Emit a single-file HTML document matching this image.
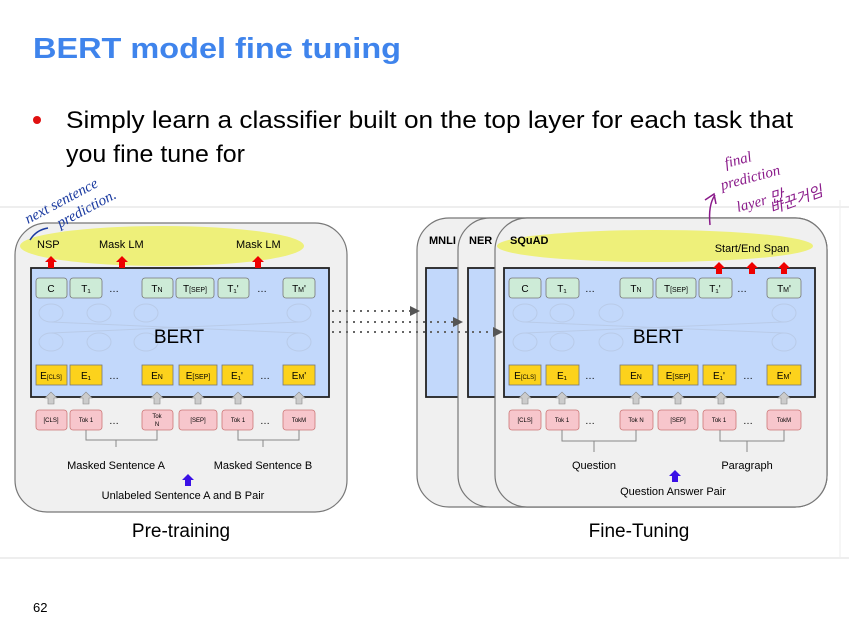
<!DOCTYPE html>
<html><head><meta charset="utf-8"><style>html,body{margin:0;padding:0;background:#fff}svg{display:block}</style></head><body>
<svg width="849" height="631" viewBox="0 0 849 631" xmlns="http://www.w3.org/2000/svg" font-family="Liberation Sans, sans-serif">
<defs>
<g id="up"><polygon points="-6,0 0,-6 6,0 3,0 3,6 -3,6 -3,0"/></g>
</defs>
<rect width="849" height="631" fill="#fff"/>
<text x="33" y="58" font-size="29" font-weight="bold" fill="#3f84ec" textLength="368" lengthAdjust="spacingAndGlyphs">BERT model fine tuning</text>
<circle cx="37" cy="120" r="4" fill="#e01010"/>
<text x="66" y="128" font-size="24" fill="#000" textLength="727" lengthAdjust="spacingAndGlyphs">Simply learn a classifier built on the top layer for each task that</text>
<text x="66" y="162" font-size="24" fill="#000" textLength="179" lengthAdjust="spacingAndGlyphs">you fine tune for</text>
<line x1="0" y1="207" x2="849" y2="207" stroke="#ddd"/>
<line x1="0" y1="558" x2="849" y2="558" stroke="#ddd"/>
<line x1="840" y1="200" x2="840" y2="558" stroke="#eee"/>
<text x="33" y="612" font-size="13" fill="#000">62</text>

<!-- Pre-training -->
<rect x="15" y="223" width="332" height="289" rx="32" fill="#f0f0f0" stroke="#777" stroke-width="1.2"/>
<ellipse cx="162" cy="246" rx="142" ry="20" fill="#eef07a"/>
<text x="37" y="248" font-size="11">NSP</text>
<text x="99" y="248" font-size="11">Mask LM</text>
<text x="236" y="248" font-size="11">Mask LM</text>
<rect x="31" y="268" width="298" height="129" fill="#c2d8fb" stroke="#222" stroke-width="1.8"/>
<g fill="#e00"><use href="#up" x="51" y="262"/><use href="#up" x="122" y="262"/><use href="#up" x="258" y="262"/></g>
<g fill="none" stroke="#b9cbe8">
<ellipse cx="51" cy="313" rx="12" ry="9"/><ellipse cx="99" cy="313" rx="12" ry="9"/><ellipse cx="146" cy="313" rx="12" ry="9"/><ellipse cx="299" cy="313" rx="12" ry="9"/>
<ellipse cx="51" cy="342" rx="12" ry="9"/><ellipse cx="99" cy="342" rx="12" ry="9"/><ellipse cx="146" cy="342" rx="12" ry="9"/><ellipse cx="299" cy="342" rx="12" ry="9"/>
<line x1="51" y1="322" x2="299" y2="333"/><line x1="299" y1="322" x2="51" y2="333"/>
</g>
<text x="179" y="343" font-size="19" text-anchor="middle">BERT</text>
<g font-size="10" text-anchor="middle">
<g fill="#cdebd7" stroke="#777" stroke-width="0.8">
<rect x="36" y="278" width="31" height="20" rx="3"/><rect x="70" y="278" width="32" height="20" rx="3"/><rect x="142" y="278" width="31" height="20" rx="3"/><rect x="176" y="278" width="38" height="20" rx="3"/><rect x="218" y="278" width="31" height="20" rx="3"/><rect x="283" y="278" width="32" height="20" rx="3"/>
</g>
<text x="51" y="292">C</text><text x="86" y="292">T₁</text><text x="114" y="292">…</text><text x="157" y="292">T<tspan font-size="7">N</tspan></text><text x="195" y="292">T<tspan font-size="7">[SEP]</tspan></text><text x="233" y="292">T₁'</text><text x="262" y="292">…</text><text x="299" y="292">T<tspan font-size="7">M</tspan>'</text>
<g fill="#fcd21c" stroke="#777" stroke-width="0.8">
<rect x="36" y="365" width="31" height="20"/><rect x="70" y="365" width="32" height="20"/><rect x="142" y="365" width="31" height="20"/><rect x="179" y="365" width="38" height="20"/><rect x="222" y="365" width="31" height="20"/><rect x="283" y="365" width="32" height="20"/>
</g>
<text x="51" y="379">E<tspan font-size="6">[CLS]</tspan></text><text x="86" y="379">E₁</text><text x="114" y="379">…</text><text x="157" y="379">E<tspan font-size="7">N</tspan></text><text x="198" y="379">E<tspan font-size="7">[SEP]</tspan></text><text x="237" y="379">E₁'</text><text x="265" y="379">…</text><text x="299" y="379">E<tspan font-size="7">M</tspan>'</text>
<g fill="#ccc" stroke="#888" stroke-width="0.6"><use href="#up" x="51" y="398"/><use href="#up" x="86" y="398"/><use href="#up" x="157" y="398"/><use href="#up" x="198" y="398"/><use href="#up" x="238" y="398"/><use href="#up" x="299" y="398"/></g>
<g fill="#f7c6cc" stroke="#c77" stroke-width="0.8">
<rect x="36" y="410" width="31" height="20" rx="3"/><rect x="70" y="410" width="32" height="20" rx="3"/><rect x="142" y="410" width="31" height="20" rx="3"/><rect x="179" y="410" width="38" height="20" rx="3"/><rect x="222" y="410" width="31" height="20" rx="3"/><rect x="283" y="410" width="32" height="20" rx="3"/>
</g>
<g font-size="6"><text x="51" y="422">[CLS]</text><text x="86" y="422">Tok 1</text><text x="157" y="418">Tok</text><text x="157" y="426">N</text><text x="198" y="422">[SEP]</text><text x="238" y="422">Tok 1</text><text x="299" y="422">TokM</text></g>
<text x="114" y="424">…</text><text x="265" y="424">…</text>
</g>
<path d="M86,430V440H157V430M116,440V447M238,430V440H299V430M263,440V447" fill="none" stroke="#888"/>
<g font-size="11" text-anchor="middle"><text x="116" y="469">Masked Sentence A</text><text x="263" y="469">Masked Sentence B</text><text x="183" y="499">Unlabeled Sentence A and B Pair</text></g>
<use href="#up" x="188" y="480" fill="#3a10e6"/>
<text x="181" y="537" font-size="19" text-anchor="middle">Pre-training</text>

<!-- Fine tuning cards -->
<rect x="417" y="218" width="410" height="289" rx="32" fill="#f0f0f0" stroke="#777" stroke-width="1.2"/>
<rect x="426" y="268" width="60" height="129" fill="#c2d8fb" stroke="#222" stroke-width="1.8"/>
<rect x="458" y="218" width="369" height="289" rx="32" fill="#f0f0f0" stroke="#777" stroke-width="1.2"/>
<rect x="468" y="268" width="60" height="129" fill="#c2d8fb" stroke="#222" stroke-width="1.8"/>
<rect x="495" y="218" width="332" height="289" rx="32" fill="#f0f0f0" stroke="#777" stroke-width="1.2"/>
<ellipse cx="655" cy="246" rx="158" ry="16" fill="#eef07a"/>
<g font-size="11" font-weight="bold"><text x="429" y="244">MNLI</text><text x="469" y="244">NER</text><text x="510" y="244">SQuAD</text></g>
<text x="752" y="252" font-size="11" text-anchor="middle">Start/End Span</text>
<rect x="504" y="268" width="311" height="129" fill="#c2d8fb" stroke="#222" stroke-width="1.8"/>
<g fill="#e00"><use href="#up" x="719" y="268"/><use href="#up" x="752" y="268"/><use href="#up" x="784" y="268"/></g>
<g fill="none" stroke="#b9cbe8">
<ellipse cx="525" cy="313" rx="12" ry="9"/><ellipse cx="562" cy="313" rx="12" ry="9"/><ellipse cx="611" cy="313" rx="12" ry="9"/><ellipse cx="784" cy="313" rx="12" ry="9"/>
<ellipse cx="525" cy="342" rx="12" ry="9"/><ellipse cx="562" cy="342" rx="12" ry="9"/><ellipse cx="611" cy="342" rx="12" ry="9"/><ellipse cx="784" cy="342" rx="12" ry="9"/>
<line x1="525" y1="322" x2="784" y2="333"/><line x1="784" y1="322" x2="525" y2="333"/>
</g>
<text x="658" y="343" font-size="19" text-anchor="middle">BERT</text>
<g font-size="10" text-anchor="middle">
<g fill="#cdebd7" stroke="#777" stroke-width="0.8">
<rect x="509" y="278" width="32" height="20" rx="3"/><rect x="546" y="278" width="33" height="20" rx="3"/><rect x="620" y="278" width="33" height="20" rx="3"/><rect x="656" y="278" width="40" height="20" rx="3"/><rect x="699" y="278" width="33" height="20" rx="3"/><rect x="767" y="278" width="34" height="20" rx="3"/>
</g>
<text x="525" y="292">C</text><text x="562" y="292">T₁</text><text x="590" y="292">…</text><text x="636" y="292">T<tspan font-size="7">N</tspan></text><text x="676" y="292">T<tspan font-size="7">[SEP]</tspan></text><text x="715" y="292">T₁'</text><text x="742" y="292">…</text><text x="784" y="292">T<tspan font-size="7">M</tspan>'</text>
<g fill="#fcd21c" stroke="#777" stroke-width="0.8">
<rect x="509" y="365" width="32" height="20"/><rect x="546" y="365" width="33" height="20"/><rect x="620" y="365" width="33" height="20"/><rect x="658" y="365" width="40" height="20"/><rect x="703" y="365" width="33" height="20"/><rect x="767" y="365" width="34" height="20"/>
</g>
<text x="525" y="379">E<tspan font-size="6">[CLS]</tspan></text><text x="562" y="379">E₁</text><text x="590" y="379">…</text><text x="636" y="379">E<tspan font-size="7">N</tspan></text><text x="678" y="379">E<tspan font-size="7">[SEP]</tspan></text><text x="719" y="379">E₁'</text><text x="748" y="379">…</text><text x="784" y="379">E<tspan font-size="7">M</tspan>'</text>
<g fill="#ccc" stroke="#888" stroke-width="0.6"><use href="#up" x="525" y="398"/><use href="#up" x="562" y="398"/><use href="#up" x="636" y="398"/><use href="#up" x="678" y="398"/><use href="#up" x="721" y="398"/><use href="#up" x="784" y="398"/></g>
<g fill="#f7c6cc" stroke="#c77" stroke-width="0.8">
<rect x="509" y="410" width="32" height="20" rx="3"/><rect x="546" y="410" width="33" height="20" rx="3"/><rect x="620" y="410" width="33" height="20" rx="3"/><rect x="658" y="410" width="40" height="20" rx="3"/><rect x="703" y="410" width="33" height="20" rx="3"/><rect x="767" y="410" width="34" height="20" rx="3"/>
</g>
<g font-size="6"><text x="525" y="422">[CLS]</text><text x="562" y="422">Tok 1</text><text x="636" y="422">Tok N</text><text x="678" y="422">[SEP]</text><text x="719" y="422">Tok 1</text><text x="784" y="422">TokM</text></g>
<text x="590" y="424">…</text><text x="748" y="424">…</text>
</g>
<path d="M562,430V441H636V430M594,441V452M720,430V441H784V430M747,441V452" fill="none" stroke="#888"/>
<g font-size="11" text-anchor="middle"><text x="594" y="469">Question</text><text x="747" y="469">Paragraph</text><text x="673" y="495">Question Answer Pair</text></g>
<use href="#up" x="675" y="476" fill="#3a10e6"/>
<text x="639" y="537" font-size="19" text-anchor="middle">Fine-Tuning</text>

<!-- dotted arrows (on top) -->
<g stroke="#666" stroke-width="2" stroke-dasharray="2,5"><line x1="332" y1="311" x2="412" y2="311"/><line x1="332" y1="322" x2="455" y2="322"/><line x1="332" y1="332" x2="495" y2="332"/></g>
<g fill="#555"><polygon points="410,306 420,311 410,316"/><polygon points="453,317 463,322 453,327"/><polygon points="493,327 503,332 493,337"/></g>

<!-- handwriting -->
<g fill="#1a3aa0" font-family="Liberation Serif, serif" font-style="italic" font-size="15">
<text x="28" y="224" transform="rotate(-28 28 224)">next sentence</text>
<text x="60" y="228" transform="rotate(-28 60 228)">prediction.</text>
</g>
<path d="M30,240 q6,-10 18,-12" stroke="#1a3aa0" fill="none" stroke-width="1.5"/>
<g fill="#8a1a8a" font-family="Liberation Serif, &quot;Noto Sans CJK KR&quot;, serif" font-style="italic" font-size="15">
<text x="726" y="168" transform="rotate(-15 726 168)">final</text>
<text x="722" y="190" transform="rotate(-15 722 190)">prediction</text>
<text x="738" y="212" transform="rotate(-15 738 212)">layer 만</text>
<text x="772" y="214" transform="rotate(-20 772 214)">바꾼거임</text>
</g>
<path d="M710,225 q-2,-20 5,-30 M705,200 l9,-6 l2,10" stroke="#8a1a8a" fill="none" stroke-width="1.5"/>
</svg>
</body></html>
